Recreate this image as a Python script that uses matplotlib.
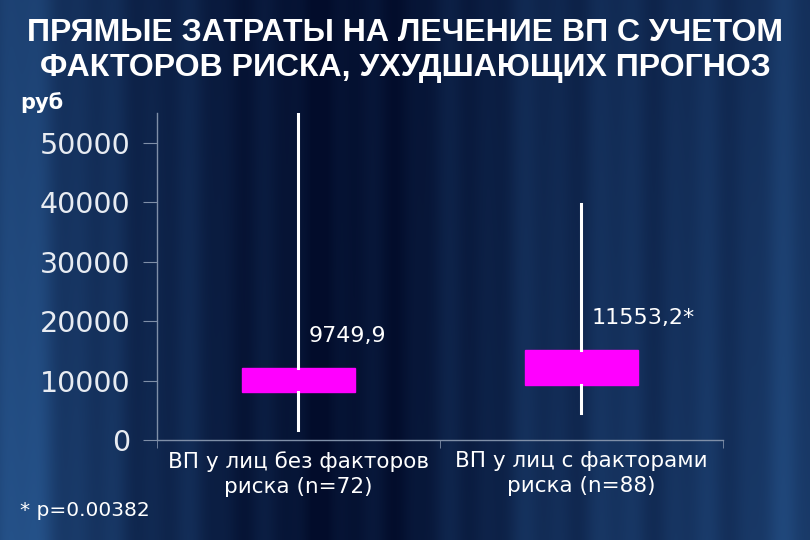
import numpy as np
import matplotlib
matplotlib.use("Agg")
from matplotlib import pyplot as plt

# данные
groups = ["ВП у лиц без факторов\nриска (n=72)", "ВП у лиц с факторами\nриска (n=88)"]
medians = [9749.9, 11553.2]
q1 = [8050, 9200]
q3 = [12050, 15100]
whis_lo = [1700, 4500]
whis_hi = [54900, 39800]
med_labels = ["9749,9", "11553,2*"]
yticks = [0, 10000, 20000, 30000, 40000, 50000]

title = "ПРЯМЫЕ ЗАТРАТЫ НА ЛЕЧЕНИЕ ВП С УЧЕТОМ\nФАКТОРОВ РИСКА, УХУДШАЮЩИХ ПРОГНОЗ"

fig = plt.figure(figsize=(8.1, 5.4), dpi=100)

# фон: тёмно-синий с вертикальными полосами
bg = fig.add_axes([0, 0, 1, 1], zorder=-10)
xx = np.linspace(0, 1, 810)
prof = 0.5 - 0.45 * np.exp(-((xx - 0.42) / 0.2) ** 2)
prof += 0.35 * np.exp(-((xx - 0.03) / 0.06) ** 2)
prof += 0.15 * np.exp(-((xx - 0.97) / 0.05) ** 2)
prof += 0.06 * np.sin(xx * 60) + 0.04 * np.sin(xx * 137 + 1.0)
prof = np.clip(prof, 0, 1)
yy = np.linspace(0, 1, 540)[:, None]
shade = prof[None, :] * (0.85 + 0.25 * yy)
dark = np.array([0.01, 0.05, 0.17])
light = np.array([0.15, 0.33, 0.55])
img = dark + np.clip(shade, 0, 1)[..., None] * (light - dark)
bg.imshow(img, aspect="auto", extent=[0, 1, 0, 1], origin="upper")
bg.set_axis_off()

ax = fig.add_axes([0.1938, 0.1852, 0.6988, 0.605])
ax.patch.set_alpha(0)

stats = []
for i in range(len(groups)):
    stats.append(dict(med=medians[i], q1=q1[i], q3=q3[i],
                      whislo=whis_lo[i], whishi=whis_hi[i], fliers=[]))

pos = np.arange(1, len(groups) + 1)
ax.bxp(stats, positions=pos, widths=0.4, patch_artist=True, showcaps=False,
       showfliers=False,
       boxprops=dict(facecolor="#ff00ff", edgecolor="#ff00ff", linewidth=1),
       medianprops=dict(color="#ff00ff", linewidth=0),
       whiskerprops=dict(color="white", linewidth=2.2))

for i in range(len(groups)):
    ax.text(pos[i] + 0.035, q3[i] + 5500, med_labels[i], color="white",
            fontsize=16, va="center", ha="left")

ax.set_xlim(0.5, 2.5)
ax.set_ylim(0, 55000)
ax.set_yticks(yticks)
ax.set_yticklabels([str(v) for v in yticks], fontsize=20.5, color="#e8ecf2")
ax.set_xticks(pos)
ax.set_xticklabels(groups, fontsize=15.5, color="white", linespacing=1.3)
ax.set_xticks([0.5, 1.5, 2.5], minor=True)
ax.tick_params(axis="x", which="major", length=0, pad=8)
ax.tick_params(axis="x", which="minor", length=6, color="#7f8fa8", direction="out")
ax.tick_params(axis="y", length=10, color="#7f8fa8", direction="out", pad=9)

for s in ["top", "right"]:
    ax.spines[s].set_visible(False)
for s in ["left", "bottom"]:
    ax.spines[s].set_color("#7f8fa8")
    ax.spines[s].set_linewidth(1)

fig.text(0.5, 0.907, title, ha="center", va="center", color="white",
         fontsize=23, fontweight="bold", family="Liberation Sans", linespacing=1.22)
fig.text(0.025, 0.81, "руб", color="white", fontsize=15, fontweight="bold",
         va="center", ha="left")
fig.text(0.025, 0.055, "* p=0.00382", color="white", fontsize=14.5,
         va="center", ha="left")

fig.savefig("out.png", dpi=100)
